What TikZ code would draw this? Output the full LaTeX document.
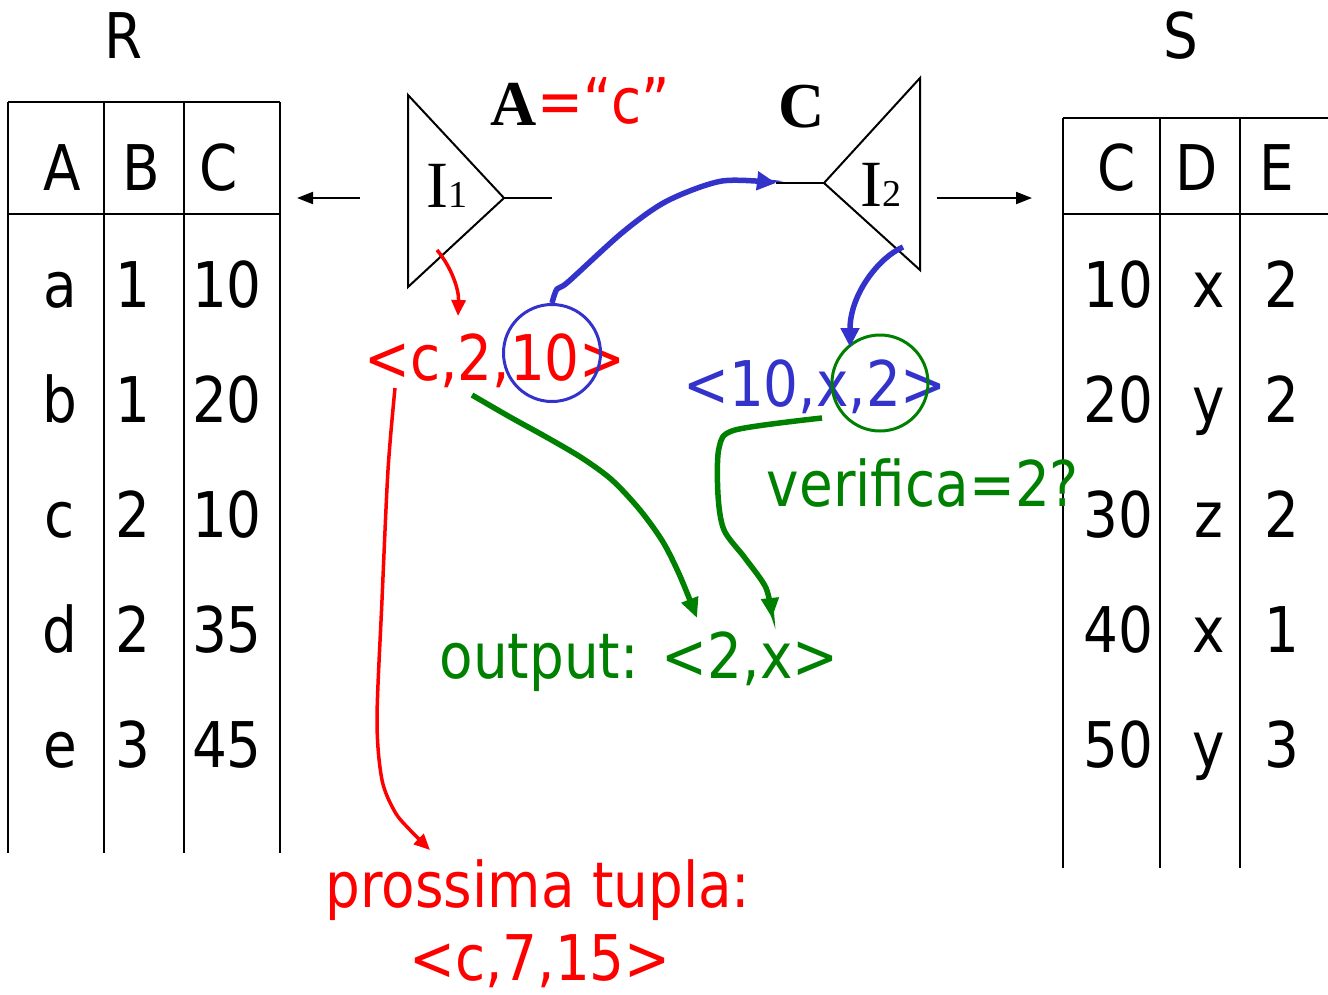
\documentclass[tikz,border=0pt]{standalone}
\usepackage{fontspec}
\setmainfont{DejaVu Sans}[FakeStretch=0.87]
\newfontfamily\timesfont{Liberation Serif}
\usetikzlibrary{arrows.meta}
\definecolor{tred}{HTML}{FF0000}
\definecolor{tblue}{HTML}{3333CC}
\definecolor{tgreen}{HTML}{008000}

\begin{document}
\begin{tikzpicture}[x=1pt, y=-1pt,
    txt/.style={font=\fontsize{63}{70}\selectfont, inner sep=0pt, anchor=base},
    ser/.style={font=\timesfont\bfseries\fontsize{64}{70}\selectfont, inner sep=0pt, anchor=base},
    rule/.style={line width=2pt},
    blk/.style={line width=2pt, -{Triangle[length=16pt,width=12pt]}},
    bluearr/.style={draw=tblue, line width=5.5pt, -{Triangle[length=19pt,width=18pt]}},
    greenarr/.style={draw=tgreen, line width=5.5pt, -{Triangle[length=20pt,width=17pt]}},
    redarr/.style={draw=tred, line width=3.5pt, -{Triangle[length=16pt,width=14pt]}},
    ring/.style={circle, line width=3pt, inner sep=0pt}]
  \useasboundingbox (0,0) rectangle (1328,994);

  % relation R
  \node[txt] (relR) at (124,58) {R};
  \draw[rule] (8,102) -- (280,102) (8,214) -- (280,214);
  \foreach \x in {8,104,184,280} \draw[rule] (\x,102) -- (\x,853);
  \node[txt] (rA) at (62,190) {A};
  \node[txt] (rB) at (141,190) {B};
  \node[txt] (rC) at (219,190) {C};
  \foreach \a/\b/\c [count=\i] in {a/1/10, b/1/20, c/2/10, d/2/35, e/3/45} {
    \node[txt] (r\i a) at (60,{307+115*(\i-1)}) {\a};
    \node[txt] (r\i b) at (133,{307+115*(\i-1)}) {\b};
    \node[txt] (r\i c) at (227,{307+115*(\i-1)}) {\c};
  }

  % relation S
  \node[txt] (relS) at (1181,58) {S};
  \draw[rule] (1063,118) -- (1328,118) (1063,214) -- (1328,214);
  \foreach \x in {1063,1160,1240} \draw[rule] (\x,118) -- (\x,868);
  \node[txt] (sC) at (1117,190) {C};
  \node[txt] (sD) at (1197,190) {D};
  \node[txt] (sE) at (1277,190) {E};
  \foreach \a/\b/\c [count=\i] in {10/x/2, 20/y/2, 30/z/2, 40/x/1, 50/y/3} {
    \node[txt] (s\i a) at (1118,{307+115*(\i-1)}) {\a};
    \node[txt] (s\i b) at (1209,{307+115*(\i-1)}) {\b};
    \node[txt] (s\i c) at (1282,{307+115*(\i-1)}) {\c};
  }

  % index I1 on A
  \coordinate (i1tip) at (504,198);
  \coordinate (i1out) at (552,198);
  \draw[rule] (408,95) -- (408,287) -- (i1tip) -- cycle;
  \draw[rule] (i1tip) -- (i1out);
  \node[anchor=base, inner sep=0pt] (i1) at (447,207)
    {\timesfont\fontsize{66}{70}\selectfont I\fontsize{38}{40}\selectfont 1};
  \node[ser] (selA) at (514,125) {A};
  \node[txt, anchor=base west, text=tred] (selc) at (537,123) {=“c”};
  \coordinate (toR) at (360,198);
  \coordinate (atR) at (297,198);
  \draw[blk] (toR) -- (atR);

  % index I2 on C
  \coordinate (i2tip) at (824,183);
  \coordinate (i2in) at (776,183);
  \draw[rule] (920,78) -- (920,270) -- (i2tip) -- cycle;
  \draw[rule] (i2in) -- (i2tip);
  \node[anchor=base, inner sep=0pt] (i2) at (881,206)
    {\timesfont\fontsize{66}{70}\selectfont I\fontsize{38}{40}\selectfont 2};
  \node[ser] (joinC) at (802,127) {C};
  \coordinate (toS) at (937,198);
  \coordinate (atS) at (1032,198);
  \draw[blk] (toS) -- (atS);

  % tuples
  \node[txt, text=tred] (tupR) at (495,380) {<c,2,10>};
  \node[draw=tblue, ring, minimum width=97pt] (hl1) at (552,353) {};
  \node[txt, text=tblue] (tupS) at (815,406) {<10,x,2>};
  \node[draw=tgreen, ring, minimum width=96pt] (hl2) at (880,383) {};
  \node[txt, text=tgreen] (check) at (923,506) {verifica=2?};
  \node[txt, text=tgreen] (out) at (639,678) {output: <2,x>};
  \node[txt, text=tred] (next) at (538,907) {prossima tupla:};
  \node[txt, text=tred] (nextv) at (540,980) {<c,7,15>};

  % connectors
  \coordinate (i1low) at (437,250);
  \coordinate (i2low) at (903,247);
  \draw[redarr] (i1low) .. controls (452,268) and (459,290) .. (458,316);
  \draw[bluearr] plot[smooth, tension=0.5] coordinates
    {(hl1.north) (557,289) (568,282) (623,232) (667,201) (722,181) (i2in)};
  \draw[bluearr] (i2low) .. controls (878,258) and (850,295) .. (850,347);
  \draw[greenarr] plot[smooth, tension=0.5] coordinates
    {(472,395) (510,417) (548,438) (582,458) (612,480) (640,510) (663,542) (680,576) (697,618)};
  \draw[greenarr] plot[smooth, tension=0.5] coordinates
    {(822,418) (735,430) (719,448) (718,495) (724,530) (745,558) (766,588) (772,618)};
  \draw[redarr] plot[smooth, tension=0.5] coordinates
    {(395,388) (388,470) (382,600) (377,720) (382,780) (395,812) (410,830) (430,850)};
\end{tikzpicture}
\end{document}
